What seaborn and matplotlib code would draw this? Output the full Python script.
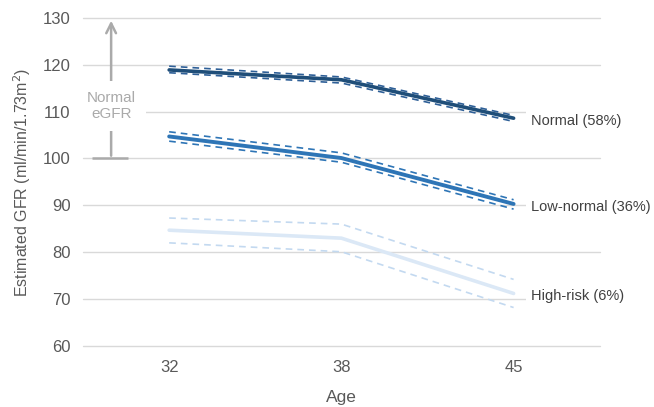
import pandas as pd
import matplotlib.pyplot as plt
import seaborn as sns

# Ages (categorical x axis)
ages = ["32", "38", "45"]

# Mean eGFR trajectories per group
normal_mean = [118.9, 116.8, 108.6]
normal_upper = [119.7, 117.4, 109.2]
normal_lower = [118.3, 116.1, 107.9]

lownormal_mean = [104.7, 100.1, 90.3]
lownormal_upper = [105.7, 101.2, 91.2]
lownormal_lower = [103.7, 99.2, 89.2]

highrisk_mean = [84.7, 83.0, 71.2]
highrisk_upper = [87.3, 86.0, 74.2]
highrisk_lower = [82.0, 80.1, 68.2]

group_names = ["Normal (58%)", "Low-normal (36%)", "High-risk (6%)"]
group_colors = ["#1f4e79", "#2e75b6", "#dbe8f6"]
band_colors = ["#2e5f97", "#2e75b6", "#c3d9f0"]
line_widths = [2.6, 2.8, 2.6]


def build_frame():
    rows = []
    series = [
        (normal_mean, normal_upper, normal_lower),
        (lownormal_mean, lownormal_upper, lownormal_lower),
        (highrisk_mean, highrisk_upper, highrisk_lower),
    ]
    for name, (m, u, l) in zip(group_names, series):
        for i, age in enumerate(ages):
            rows.append({"group": name, "age": age, "mean": m[i], "upper": u[i], "lower": l[i]})
    return pd.DataFrame(rows)


df = build_frame()

sns.set_style("white")
plt.rcParams["font.family"] = ["Liberation Sans", "DejaVu Sans"]

fig = plt.figure(figsize=(6.54, 4.07), dpi=100)
ax = fig.add_axes([0.127, 0.150, 0.79, 0.806])

for name, col, bcol, lw in zip(group_names, group_colors, band_colors, line_widths):
    sub = df[df["group"] == name]
    for bound in ["upper", "lower"]:
        sns.lineplot(data=sub, x="age", y=bound, ax=ax, color=bcol, lw=1.2,
                     dashes=False, zorder=3, sort=False)
        ax.lines[-1].set_dashes((4, 3))
    sns.lineplot(data=sub, x="age", y="mean", ax=ax, color=col, lw=lw, zorder=4, sort=False)
    # label at the end of the line
    ax.text(2.1, sub["mean"].iloc[-1] - 0.6, name, ha="left", va="center", fontsize=10.5,
            color="#404040", zorder=5,
            bbox=dict(boxstyle="square,pad=0.3", fc="white", ec="none"))

ax.set_xlim(-0.5, 2.5)
ax.set_ylim(60, 130)
ax.set_yticks(range(60, 131, 10))
ax.yaxis.grid(True, color="#d9d9d9", lw=1)
for gl in ax.get_ygridlines():
    gl.set_clip_on(False)
ax.set_axisbelow(True)
for s in ax.spines.values():
    s.set_visible(False)
ax.tick_params(axis="both", length=0, labelsize=12, labelcolor="#595959")
ax.tick_params(axis="y", pad=9)
ax.tick_params(axis="x", pad=10)

ax.set_xlabel("Age", fontsize=12.5, color="#595959", labelpad=11)
ax.set_ylabel("Estimated GFR (ml/min/1.73m$^2$)", fontsize=11.5, color="#595959", labelpad=7)

# Normal eGFR range annotation
arrow_x = -0.337
ax.annotate("", xy=(arrow_x, 130), xytext=(arrow_x, 100),
            arrowprops=dict(arrowstyle="->,head_length=0.7,head_width=0.35", color="#aaaaaa", lw=1.8),
            zorder=2)
ax.plot([-0.45, -0.24], [100, 100], color="#aaaaaa", lw=1.8, zorder=2, solid_capstyle="butt")
ax.text(arrow_x, 111.2, "Normal\neGFR", ha="center", va="center", fontsize=11,
        color="#aaaaaa", linespacing=1.1, zorder=3,
        bbox=dict(boxstyle="square,pad=0.7", fc="white", ec="none"))

fig.savefig("out.png", dpi=100)
